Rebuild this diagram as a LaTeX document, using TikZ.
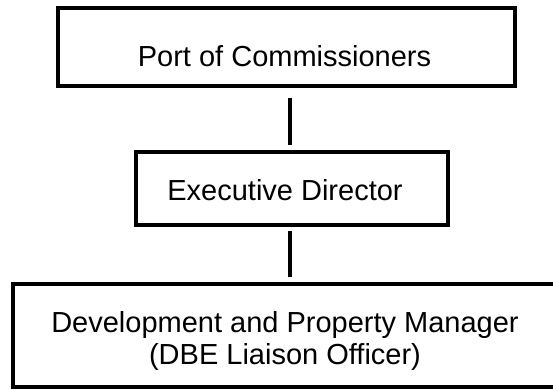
\documentclass[tikz,border=0pt]{standalone}
\usepackage{fontspec}
\setmainfont{Liberation Sans}
\usepackage{tikz}
\tikzset{
	org box/.style = {draw, line width=1.75pt, inner sep=0pt, align=center,
		font=\fontsize{14.5}{16}\selectfont},
	org link/.style = {line width=1.75pt}
}

\begin{document}
\begin{tikzpicture}[x=0.5pt, y=-0.5pt]
			\useasboundingbox (0, 0) rectangle (553, 390);
			% boxes
			\node[org box, minimum width=228.5pt, minimum height=39pt,
				text height=19.6pt, text depth=0pt] (board) at (286.5, 47) {Port of Commissioners\kern2pt};
			\node[org box, minimum width=156pt, minimum height=36.5pt,
				text height=12.4pt, text depth=0pt] (director) at (292, 188.5) {Executive Director\kern7pt};
			% this one runs off the right edge
			\node[org box, minimum width=290pt, minimum height=51.5pt] (manager) at (303, 335.5)
				{\rule{0pt}{15.6pt}Development and Property Manager\kern18pt\\(DBE Liaison Officer)\kern18pt};
			% links
			\coordinate (axis) at (290, 0);
			\draw[org link, shorten <=5.1pt, shorten >=2.6pt] (board.south -| axis) -- (director.north -| axis);
			\draw[org link, shorten <=2.1pt, shorten >=2.6pt] (director.south -| axis) -- (manager.north -| axis);
		\end{tikzpicture}
\end{document}
